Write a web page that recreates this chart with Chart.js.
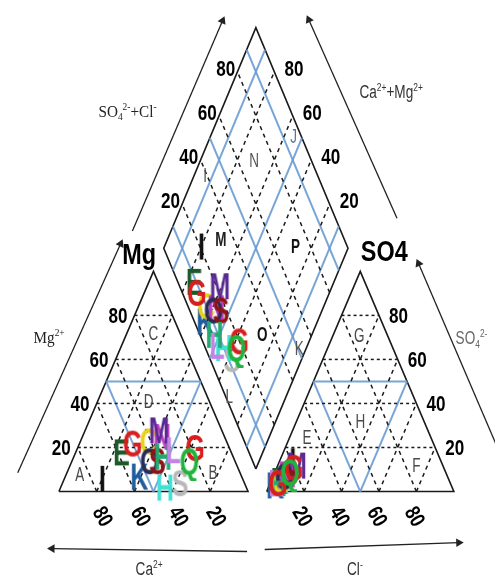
<!DOCTYPE html>
<html>
<head>
<meta charset="utf-8">
<title>Diagramma di Piper</title>
<script src="https://cdn.jsdelivr.net/npm/chart.js@4.4.1/dist/chart.umd.min.js"></script>
<style>
    html, body { margin: 0; padding: 0; background: #fff; }
    #piper { display: block; }
</style>
</head>
<body>
<canvas id="piper" width="500" height="584"></canvas>
<script>
// Campioni: lettera, colore, cationi (% meq) e anioni (% meq)
const lettere = ['I', 'S', 'H', 'K', 'E', 'C', 'N', 'M', 'O', 'S', 'H', 'L', 'G', 'G', 'Q'];
const colori = ['#111111', '#b8b8b8', '#3fe0d6', '#1e5c9c', '#1d5a2a', '#e6d21e', '#c23cc8', '#5a2a92',
                '#2b2b55', '#8e1414', '#22aa70', '#c583e6', '#d81e1e', '#d81e1e', '#1fb43c'];
const calcio   = [74, 34, 43, 54, 58, 41, 33, 33, 45, 41, 37, 30, 50, 18, 24];
const magnesio = [ 6,  4,  2,  7, 18, 23, 25, 28, 14, 14, 16, 19, 22, 20, 14];
const sodioK   = [20, 62, 55, 39, 24, 36, 42, 39, 41, 45, 47, 51, 28, 62, 62];
const bicarb   = [79, 88, 90, 94, 91, 90, 85, 78, 87, 83, 92, 93, 92, 80, 83];
const solfati  = [14,  6,  5,  3,  5,  5,  8, 12,  7,  9,  4,  4,  4, 11,  9];
const cloruri  = [ 7,  6,  5,  3,  4,  5,  7, 10,  6,  8,  4,  3,  4,  9,  8];

// Tacche delle scale percentuali
const tacche = [20, 40, 60, 80];
// Limiti delle classi (linee azzurre)
const limitiTriangolo = [50];
const limitiRombo = [10, 50, 90];

// Etichette delle classi: cationi [Ca, Mg, Na+K], anioni [HCO3, SO4, Cl], rombo [SO4+Cl, Ca+Mg]
const classiCationi = [['A', [85, 8, 7]], ['B', [14, 9, 77]], ['C', [14, 72, 14]], ['D', [32, 41, 27]]];
const classiAnioni  = [['E', [66, 25, 9]], ['F', [14, 12, 74]], ['G', [15, 71, 14]], ['H', [34, 32, 34]]];
const classiRombo   = [['I', [39, 94]], ['J', [96, 55]], ['K', [51, 4]], ['L', [2, 31]],
                       ['M', [33, 71]], ['N', [69, 71]], ['O', [34, 27]], ['P', [72, 29]]];

// Geometria del diagramma (unità = pixel della tela)
const TRI_SX = { x0: 55, x1: 248, base: 495, h: 224 };
const TRI_DX = { x0: 267, x1: 458, base: 495, h: 224 };
const ROMBO = { cx: 256, base: 472, mezzaL: 94, mezzaH: 224.5 };

// punto in un triangolo: a = componente in basso a sinistra, b = in alto, c = in basso a destra
function puntoTriangolo(tri, a, b, c) {
    const tot = a + b + c;
    const alto = b / tot, destra = c / tot;
    const w = tri.x1 - tri.x0;
    return { x: tri.x0 + (destra + alto / 2) * w, y: tri.base - alto * tri.h };
}

// punto nel rombo: s = SO4+Cl, c = Ca+Mg (percentuali)
function puntoRombo(s, c) {
    s /= 100; c /= 100;
    return { x: ROMBO.cx + ROMBO.mezzaL * (s - c), y: ROMBO.base - ROMBO.mezzaH * (s + c) };
}

function segmento(p, q, colore, spessore, tratteggio) {
    return {
        data: [p, q],
        showLine: true,
        borderColor: colore,
        borderWidth: spessore,
        borderDash: tratteggio || [],
        pointRadius: 0,
        fill: false,
        tension: 0,
        order: 5
    };
}

function poligono(punti, colore, spessore) {
    const d = segmento(punti[0], punti[1], colore, spessore);
    d.data = punti.concat([punti[0]]);
    return d;
}

function freccia(p, q) {
    const ang = Math.atan2(q.x - p.x, -(q.y - p.y)) * 180 / Math.PI;
    return {
        data: [p, q],
        showLine: true,
        borderColor: '#222',
        borderWidth: 1.3,
        pointRadius: [0, 5],
        pointStyle: 'triangle',
        pointRotation: ang,
        pointBackgroundColor: '#222',
        pointBorderColor: '#222',
        pointBorderWidth: 0,
        tension: 0,
        order: 5
    };
}

// lettera colorata usata come simbolo del campione
function simboloLettera(lettera, colore) {
    const fs = 25, sy = 1.45;
    const c = document.createElement('canvas');
    let g = c.getContext('2d');
    g.font = 'bold ' + fs + 'px "Liberation Sans", Arial, sans-serif';
    const w = Math.ceil(g.measureText(lettera).width) + 4;
    const h = Math.ceil(fs * sy) + 4;
    c.width = w;
    c.height = h;
    g = c.getContext('2d');
    g.font = 'bold ' + fs + 'px "Liberation Sans", Arial, sans-serif';
    g.fillStyle = colore;
    g.textAlign = 'center';
    g.textBaseline = 'alphabetic';
    g.translate(w / 2, h / 2);
    g.scale(1, sy);
    g.fillText(lettera, 0, fs * 0.36);
    return c;
}

const datasets = [];

// ---- campioni (sopra a tutto) ----
const simboli = lettere.map((l, i) => simboloLettera(l, colori[i]));
const puntiCat = lettere.map((l, i) => puntoTriangolo(TRI_SX, calcio[i], magnesio[i], sodioK[i]));
const puntiAn = lettere.map((l, i) => puntoTriangolo(TRI_DX, bicarb[i], solfati[i], cloruri[i]));
const puntiRombo = lettere.map((l, i) => {
    const totC = calcio[i] + magnesio[i] + sodioK[i];
    const totA = bicarb[i] + solfati[i] + cloruri[i];
    return puntoRombo(100 * (solfati[i] + cloruri[i]) / totA, 100 * (calcio[i] + magnesio[i]) / totC);
});
[puntiCat, puntiAn, puntiRombo].forEach(function (punti, k) {
    datasets.push({
        label: ['Cationi', 'Anioni', 'Rombo'][k],
        data: punti,
        pointStyle: simboli,
        pointRadius: 4,
        showLine: false,
        order: 0
    });
});

// ---- griglie tratteggiate ----
const NERO = '#1a1a1a';
const AZZURRO = 'rgba(105,155,210,0.9)';
[TRI_SX, TRI_DX].forEach(function (tri) {
    tacche.forEach(function (k) {
        const r = 100 - k;
        // linee orizzontali (componente in alto = k)
        datasets.push(segmento(puntoTriangolo(tri, r, k, 0), puntoTriangolo(tri, 0, k, r), NERO, 1.5, [3, 3]));
        // componente in basso a destra = k
        datasets.push(segmento(puntoTriangolo(tri, r, 0, k), puntoTriangolo(tri, 0, r, k), NERO, 1.5, [4, 4]));
        // componente in basso a sinistra = k
        datasets.push(segmento(puntoTriangolo(tri, k, 0, r), puntoTriangolo(tri, k, r, 0), NERO, 1.5, [4, 4]));
    });
});
tacche.forEach(function (k) {
    datasets.push(segmento(puntoRombo(k, 0), puntoRombo(k, 100), NERO, 1.5, [4, 4]));
    datasets.push(segmento(puntoRombo(0, k), puntoRombo(100, k), NERO, 1.5, [4, 4]));
});

// ---- limiti delle classi ----
[TRI_SX, TRI_DX].forEach(function (tri) {
    limitiTriangolo.forEach(function (k) {
        const r = 100 - k;
        datasets.push(segmento(puntoTriangolo(tri, r, k, 0), puntoTriangolo(tri, 0, k, r), AZZURRO, 2));
        datasets.push(segmento(puntoTriangolo(tri, k, 0, r), puntoTriangolo(tri, k, r, 0), AZZURRO, 2));
        datasets.push(segmento(puntoTriangolo(tri, r, 0, k), puntoTriangolo(tri, 0, r, k), AZZURRO, 2));
    });
});
limitiRombo.forEach(function (k) {
    datasets.push(segmento(puntoRombo(k, 0), puntoRombo(k, 100), AZZURRO, 2));
    datasets.push(segmento(puntoRombo(0, k), puntoRombo(100, k), AZZURRO, 2));
});

// ---- contorni ----
[TRI_SX, TRI_DX].forEach(function (tri) {
    datasets.push(poligono([puntoTriangolo(tri, 100, 0, 0), puntoTriangolo(tri, 0, 100, 0),
                            puntoTriangolo(tri, 0, 0, 100)], NERO, 1.6));
});
datasets.push(poligono([puntoRombo(0, 0), puntoRombo(0, 100), puntoRombo(100, 100), puntoRombo(100, 0)], NERO, 1.6));

// ---- frecce degli assi ----
datasets.push(freccia({ x: 13, y: 476 }, { x: 118, y: 243 }));
datasets.push(freccia({ x: 130, y: 230 }, { x: 222, y: 16 }));
datasets.push(freccia({ x: 400, y: 217 }, { x: 310, y: 15 }));
datasets.push(freccia({ x: 508, y: 463 }, { x: 422, y: 263 }));
datasets.push(freccia({ x: 247, y: 556 }, { x: 48, y: 553 }));
datasets.push(freccia({ x: 265, y: 554 }, { x: 463, y: 547 }));

// testo con pedici/apici: pezzi = [[testo, 0 normale | 1 apice | -1 pedice], ...]
function scrivi(ctx, pezzi, x, y, o) {
    ctx.save();
    ctx.translate(x, y);
    if (o.rot) ctx.rotate(o.rot * Math.PI / 180);
    ctx.scale(o.sx || 1, o.sy || 1);
    ctx.fillStyle = o.color || '#000';
    ctx.textBaseline = 'alphabetic';
    ctx.textAlign = 'left';
    const font = s => (o.weight || 'normal') + ' ' + s + 'px ' + o.family;
    const piccolo = o.size * 0.62;
    let tot = 0;
    const larg = pezzi.map(function (p) {
        ctx.font = font(p[1] ? piccolo : o.size);
        const w = ctx.measureText(p[0]).width;
        tot += w;
        return w;
    });
    let cx = -tot / 2;
    pezzi.forEach(function (p, i) {
        ctx.font = font(p[1] ? piccolo : o.size);
        const dy = p[1] === 1 ? -o.size * 0.38 : (p[1] === -1 ? o.size * 0.2 : 0);
        ctx.fillText(p[0], cx, o.size * 0.36 + dy);
        cx += larg[i];
    });
    ctx.restore();
}

const SANS = '"Liberation Sans", Arial, sans-serif';
const SERIF = '"Liberation Serif", "Times New Roman", serif';

let testiFatti = false;
const pluginTesti = {
    id: 'testi',
    beforeDatasetsDraw: function () { testiFatti = false; },
    beforeDatasetDraw: function (chart, args) {
        if (testiFatti || chart.data.datasets[args.index].order !== 0) return;
        testiFatti = true;
        const ctx = chart.ctx;
        const X = v => chart.scales.x.getPixelForValue(v);
        const Y = v => chart.scales.y.getPixelForValue(v);
        const at = (p, dx, dy) => [X(p.x + dx), Y(p.y + dy)];

        const num = { size: 18, family: SANS, weight: 'bold', sx: 0.95, sy: 1.2, color: '#000' };
        tacche.forEach(function (k) {
            let q;
            q = at(puntoTriangolo(TRI_SX, 100 - k, k, 0), -17, 0);
            scrivi(ctx, [[String(k), 0]], q[0], q[1], num);
            q = at(puntoTriangolo(TRI_DX, 0, k, 100 - k), 20, 0);
            scrivi(ctx, [[String(k), 0]], q[0], q[1], num);
            q = at(puntoRombo(k, 100), -12, -4);
            scrivi(ctx, [[String(k), 0]], q[0], q[1], num);
            q = at(puntoRombo(100, k), 20, -4);
            scrivi(ctx, [[String(k), 0]], q[0], q[1], num);
            q = at(puntoTriangolo(TRI_SX, k, 0, 100 - k), 7, 25);
            scrivi(ctx, [[String(k), 0]], q[0], q[1], Object.assign({}, num, { rot: 60 }));
            q = at(puntoTriangolo(TRI_DX, 100 - k, 0, k), -1, 25);
            scrivi(ctx, [[String(k), 0]], q[0], q[1], Object.assign({}, num, { rot: 60 }));
        });

        // classi
        const cls = { size: 15, family: SANS, sx: 0.9, sy: 1.3, color: '#4a4a4a' };
        classiCationi.forEach(function (c) {
            const p = puntoTriangolo(TRI_SX, c[1][0], c[1][1], c[1][2]);
            scrivi(ctx, [[c[0], 0]], X(p.x), Y(p.y), cls);
        });
        classiAnioni.forEach(function (c) {
            const p = puntoTriangolo(TRI_DX, c[1][0], c[1][1], c[1][2]);
            scrivi(ctx, [[c[0], 0]], X(p.x), Y(p.y), cls);
        });
        const stileRombo = { M: '#222', O: '#111', P: '#111', J: '#5a7a9a' };
        classiRombo.forEach(function (c) {
            const p = puntoRombo(c[1][0], c[1][1]);
            const forte = c[0] === 'O' || c[0] === 'P' || c[0] === 'M';
            scrivi(ctx, [[c[0], 0]], X(p.x), Y(p.y), Object.assign({}, cls, {
                color: stileRombo[c[0]] || '#555', weight: forte ? 'bold' : 'normal'
            }));
        });

        // nomi degli assi
        const big = { size: 26, family: SANS, weight: 'bold', sx: 0.9, sy: 1.12, color: '#000' };
        scrivi(ctx, [['Mg', 0]], X(137), Y(253), big);
        scrivi(ctx, [['SO4', 0]], X(387), Y(250), big);
        const ser = { size: 16, family: SERIF, sx: 0.95, sy: 1.1, color: '#222' };
        scrivi(ctx, [['SO', 0], ['4', -1], ['2-', 1], ['+Cl', 0], ['-', 1]], X(125), Y(107), ser);
        scrivi(ctx, [['Mg', 0], ['2+', 1]], X(45), Y(337), ser);
        const san = { size: 16, family: SANS, sx: 0.85, sy: 1.15, color: '#333' };
        scrivi(ctx, [['Ca', 0], ['2+', 1], ['+Mg', 0], ['2+', 1]], X(394), Y(88), san);
        scrivi(ctx, [['SO', 0], ['4', -1], ['2-', 1]], X(476), Y(338), Object.assign({}, san, { color: '#666' }));
        scrivi(ctx, [['Ca', 0], ['2+', 1]], X(147), Y(573), san);
        scrivi(ctx, [['Cl', 0], ['-', 1]], X(357), Y(573), san);
    }
};

new Chart(document.getElementById('piper'), {
    type: 'scatter',
    data: { datasets: datasets },
    options: {
        responsive: false,
        devicePixelRatio: 1,
        animation: false,
        events: [],
        layout: { padding: 0 },
        plugins: { legend: { display: false }, tooltip: { enabled: false } },
        scales: {
            x: { type: 'linear', min: 0, max: 500, display: false },
            y: { type: 'linear', min: 0, max: 584, reverse: true, display: false }
        }
    },
    plugins: [pluginTesti]
});
</script>
</body>
</html>
